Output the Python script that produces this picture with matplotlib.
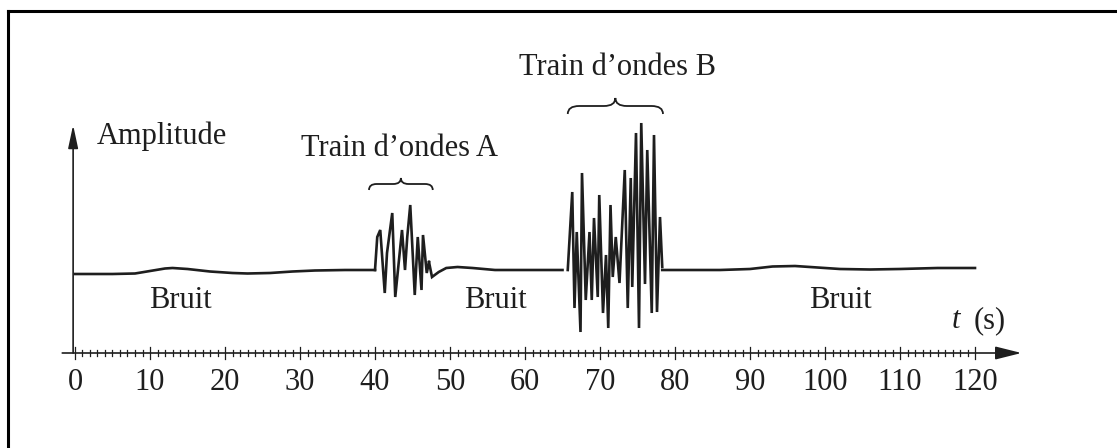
import matplotlib.pyplot as plt
from matplotlib.path import Path
from matplotlib.patches import PathPatch

# signal: time (s) and amplitude (arbitrary units, 0 = rest level)
bruit1_t = [0, 5, 8, 10, 12, 13, 15, 18, 21, 23, 26, 29, 32, 36, 40]
bruit1_a = [-2, -2, -1.5, 1, 3.5, 4, 3, 0.5, -1, -1.5, -1, 0.5, 1.5, 2, 2]

trainA_t = [40.0, 40.3, 40.7, 41.3, 41.6, 42.3, 42.7, 43.6, 44.0, 44.3, 44.7, 45.3, 45.7, 46.2, 46.4, 46.9, 47.2]
trainA_a = [2, 35, 42, -21, 19, 59, -25, 42, 2, 35, 67, -23, 35, -18, 37, -1, 10]

bruit2_t = [47.2, 47.6, 48.5, 49.5, 51, 53, 56, 60, 65]
bruit2_a = [10, -5, 0, 4, 5, 4, 2, 2, 2]

trainB_t = [65.7, 66.3, 66.6, 66.9, 67.4, 67.6, 68.1, 68.6, 68.9, 69.2, 69.7, 69.9, 70.4, 70.8, 71.1,
            71.4, 71.7, 72.1, 72.6, 73.3, 73.7, 74.1, 74.3, 74.8, 75.2, 75.5, 76.0, 76.3, 76.9, 77.2,
            77.6, 78.0, 78.3]
trainB_a = [2, 80, -36, 40, -60, 99, -28, 40, -28, 54, -25, 77, -41, 17, -56,
            67, -5, 35, -11, 102, -36, 94, -15, 139, -56, 149, -12, 122, -41, 137, -40, 55, 5]

bruit3_t = [78.3, 82, 86, 90, 93, 96, 99, 102, 106, 110, 115, 120]
bruit3_a = [2, 2, 2, 3, 5.5, 6, 4.5, 3, 2.5, 3, 4, 4]

ticks_major = [0, 10, 20, 30, 40, 50, 60, 70, 80, 90, 100, 110, 120]
ticks_minor = list(range(0, 121))

labels_bruit = ["Bruit", "Bruit", "Bruit"]
labels_bruit_t = [14, 56, 102]
titre_A = "Train d’ondes A"
titre_B = "Train d’ondes B"

plt.rcParams['font.family'] = ['Liberation Serif', 'DejaVu Serif']

fig = plt.figure(figsize=(11.17, 4.48), dpi=100)
ax = fig.add_axes([0, 0, 1, 1])
# 7.5 px per second, 1 unit of amplitude = 1 px, t=0 at px 75, rest level at py 272
ax.set_xlim(-10, (1117 - 75) / 7.5)
ax.set_ylim(272 - 448, 272)
ax.axis('off')

ink = '#1e1e1e'
fs = 22
y_axe = 272 - 353

# frame of the original figure (only top and left edges visible)
ax.plot([-8.9, 140], [272 - 11, 272 - 11], color='black', lw=2.2, clip_on=False)
ax.plot([-8.9, -8.9], [272 - 11, -180], color='black', lw=2.2, clip_on=False)

# signal
for tt, aa in [(bruit1_t, bruit1_a), (trainA_t, trainA_a), (bruit2_t, bruit2_a),
               (trainB_t, trainB_a), (bruit3_t, bruit3_a)]:
    ax.plot(tt, aa, color=ink, lw=1.9, solid_joinstyle='miter')

# time axis with ticks
ax.annotate('', xy=(126.2, y_axe), xytext=(-1.7, y_axe),
            arrowprops=dict(arrowstyle='-|>,head_length=1.6,head_width=0.4',
                            color=ink, lw=1.2, shrinkA=0, shrinkB=0))
for t in ticks_minor:
    h = 6 if t in ticks_major else 3
    ax.plot([t, t], [y_axe - h, y_axe + h], color=ink, lw=0.9)
for t in ticks_major:
    ax.text(t, y_axe - 30, str(t), ha='center', va='center', fontsize=fs, color=ink)

# amplitude axis
ax.annotate('', xy=(-0.25, 272 - 125), xytext=(-0.25, y_axe),
            arrowprops=dict(arrowstyle='-|>,head_length=1.4,head_width=0.3',
                            color=ink, lw=1.2, shrinkA=0, shrinkB=0))
ax.text(2.9, 272 - 136, "Amplitude", ha='left', va='center', fontsize=fs, color=ink)
ax.text(117.5, 272 - 321, "t", ha='center', va='center', fontsize=fs, color=ink, fontstyle='italic')
ax.text(122.0, 272 - 321, "(s)", ha='center', va='center', fontsize=fs, color=ink)

for lab, t in zip(labels_bruit, labels_bruit_t):
    ax.text(t, 272 - 300, lab, ha='center', va='center', fontsize=fs, color=ink)


def accolade(x0, x1, y, h):
    xm = (x0 + x1) / 2
    r = (x1 - x0) * 0.12
    verts = [(x0, y - h), (x0, y), (x0 + r, y),
             (xm - r, y), (xm, y), (xm, y + h),
             (xm, y), (xm + r, y),
             (x1 - r, y), (x1, y), (x1, y - h)]
    codes = [Path.MOVETO, Path.CURVE3, Path.CURVE3,
             Path.LINETO, Path.CURVE3, Path.CURVE3,
             Path.CURVE3, Path.CURVE3,
             Path.LINETO, Path.CURVE3, Path.CURVE3]
    ax.add_patch(PathPatch(Path(verts, codes), fill=False, color=ink, lw=1.3))


accolade(39.2, 47.7, 272 - 184, 6)
ax.text(43.3, 272 - 148, titre_A, ha='center', va='center', fontsize=fs, color=ink)
accolade(65.7, 78.4, 272 - 106, 8)
ax.text(72.3, 272 - 67, titre_B, ha='center', va='center', fontsize=fs, color=ink)

fig.savefig('out.png', dpi=100)
